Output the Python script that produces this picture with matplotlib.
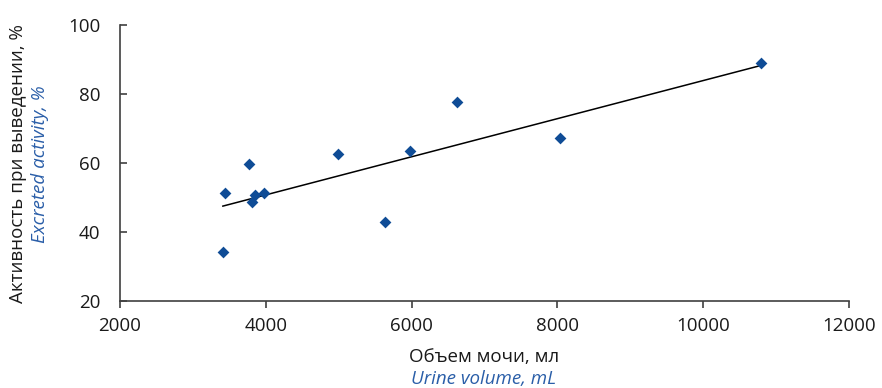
import numpy as np
import matplotlib
matplotlib.use("Agg")
import matplotlib.pyplot as plt

plt.rcParams['font.family'] = ['Open Sans', 'DejaVu Sans']

urine_volume = [3438, 3411, 3767, 3808, 3849, 3973, 4986, 5630, 5973, 6616, 8041, 10795]
excreted_activity = [51.4, 34.4, 59.9, 48.7, 50.8, 51.4, 62.8, 42.9, 63.7, 77.7, 67.2, 89.2]
x_ticks = [2000, 4000, 6000, 8000, 10000, 12000]
y_ticks = [20, 40, 60, 80, 100]

blue = '#2a5ea8'
marker_blue = '#0f4c96'
text_col = '#1a1a1a'

fig = plt.figure(figsize=(8.82, 3.88), dpi=100)
left, right, top, bottom = 120, 849, 25.3, 301.3
ax = fig.add_axes([left/882, 1 - bottom/388, (right-left)/882, (bottom-top)/388])

x = np.array(urine_volume)
y = np.array(excreted_activity)
ax.scatter(x, y, marker='D', s=36, color=marker_blue, zorder=3, linewidths=0)
k, b = np.polyfit(x, y, 1)
xl = np.array([x.min(), x.max()])
ax.plot(xl, k * xl + b, color='black', lw=1.1, zorder=2)

ax.set_xlim(2000, 12000)
ax.set_ylim(20, 100)
ax.set_xticks(x_ticks)
ax.set_yticks(y_ticks)
ax.tick_params(axis='x', labelsize=13.5, length=5, width=1.2, direction='out', pad=6,
               colors='#404040', labelcolor=text_col)
ax.tick_params(axis='y', labelsize=13.5, length=5, width=1.2, direction='in', pad=14,
               colors='#404040', labelcolor=text_col)
for s in ['top', 'right']:
    ax.spines[s].set_visible(False)
for s in ['left', 'bottom']:
    ax.spines[s].set_linewidth(1.2)
    ax.spines[s].set_color('#404040')

fig.text(484/882, 1 - 357/388, 'Объем мочи, мл', ha='center', va='center', fontsize=13.5,
         color=text_col)
fig.text(484/882, 1 - 379/388, 'Urine volume, mL', ha='center', va='center', fontsize=13.5,
         color=blue, style='italic')
fig.text(18/882, 1 - 164/388, 'Активность при выведении, %', ha='center', va='center',
         fontsize=13.5, rotation=90, color=text_col)
fig.text(40/882, 1 - 164/388, 'Excreted activity, %', ha='center', va='center',
         fontsize=13.5, rotation=90, color=blue, style='italic')

fig.savefig('out.png', dpi=100)
